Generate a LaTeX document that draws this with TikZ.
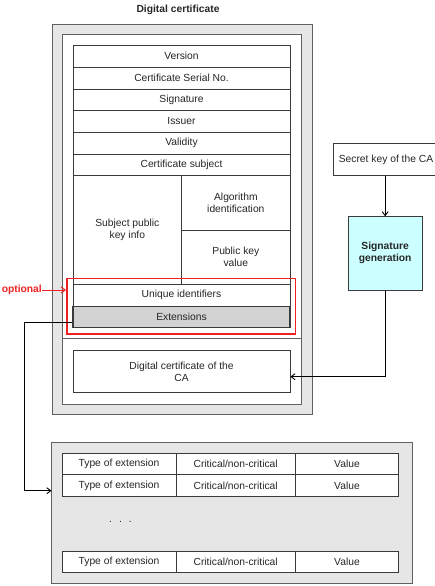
\documentclass[tikz,border=0pt]{standalone}
\usepackage{fontspec}
\setmainfont{Liberation Sans}
\usetikzlibrary{arrows.meta}
\definecolor{panelgray}{HTML}{E6E6E6}
\definecolor{extgray}{HTML}{D2D2D2}
\definecolor{sigcyan}{HTML}{CCFFFF}
\definecolor{lineclr}{HTML}{3A3A3A}
\definecolor{optred}{HTML}{EE2222}
\begin{document}
\begin{tikzpicture}[x=1pt,y=-1pt,
  every node/.style={font=\fontsize{10.3}{12}\selectfont, text=black!85},
  cell/.style={draw=lineclr, line width=0.7pt, inner sep=0pt, align=center},
  conn/.style={draw=black, line width=0.9pt, -{Straight Barb[length=4pt,width=6pt]}},
  panel/.style={draw=lineclr!80, line width=0.8pt}]
\useasboundingbox (0,0) rectangle (434,586);
% title
\node[font=\fontsize{10.3}{12}\selectfont\bfseries] (title) at (178,10) {Digital certificate};
% outer panels
\path[panel, fill=panelgray] (52,24) rectangle (312,414);
\path[panel, fill=white] (62,34) rectangle (301,404);
\draw[panel] (62,338.7) -- (301,338.7);
% table rows
\foreach \n/\t/\y in {ver/Version/56.3, ser/Certificate Serial No./78.0, sig/Signature/99.7, iss/Issuer/121.4, val/Validity/143.1, sub/Certificate subject/164.8}{
  \node[cell, minimum width=217, minimum height=21.7] (\n) at (181.5,\y) {\t};
}
\node[cell, minimum width=108.7, minimum height=108.6] (spk) at (127.35,230) {Subject public\\key info};
\node[cell, minimum width=108.3, minimum height=54.3] (alg) at (235.85,202.85) {Algorithm\\identification};
\node[cell, minimum width=108.3, minimum height=54.3] (pkv) at (235.85,257.15) {Public key\\value};
\node[cell, minimum width=217, minimum height=21.7] (uid) at (181.5,295.15) {Unique identifiers};
\node[cell, fill=extgray, line width=1.1pt, minimum width=217, minimum height=21.7] (ext) at (181.5,317) {Extensions};
% optional marker
\node[draw=optred, line width=1.1pt, minimum width=228.7, minimum height=55.3, inner sep=0pt] (opt) at (181.35,306.35) {};
\node[text=optred, font=\fontsize{10.3}{12}\selectfont\bfseries, anchor=east, inner sep=0pt] (optl) at (42,290) {optional};
\draw[optred, line width=1pt, -{Straight Barb[length=4pt,width=6pt]}] (optl.east) -- (66,290);
% CA certificate
\node[cell, minimum width=217, minimum height=42.7] (ca) at (181.5,371.35) {Digital certificate of the\\CA};
% secret key and signature generation
\node[cell, minimum width=106, minimum height=32.4] (sk) at (386,159.5) {Secret key of the CA};
\node[cell, fill=sigcyan, minimum width=73.7, minimum height=73.3, font=\fontsize{10.3}{12}\selectfont\bfseries] (sg) at (385.15,253.35) {Signature\\generation};
\draw[conn] (sk.south -| sg.north) -- (sg.north);
\draw[conn] (sg.south) |- (ca.east |- 0,376.7);
% extensions panel
\path[panel, fill=panelgray] (51.5,442) rectangle (412.3,583.3);
\foreach \r/\y in {a/463.85, b/485.5, c/561.7}{
  \node[cell, fill=white, minimum width=114, minimum height=21.7] (t\r) at (119,\y) {Type of extension};
  \node[cell, fill=white, minimum width=119.3, minimum height=21.7] (c\r) at (235.65,\y) {Critical/non-critical};
  \node[cell, fill=white, minimum width=103.4, minimum height=21.7] (v\r) at (347,\y) {Value};
}
\node (dots) at (120.5,522) {.\hspace{7pt}.\hspace{7pt}.};
\coordinate (extin) at (51.5,490.7);
\draw[conn] ([yshift=-5.3pt]ext.west) -| (24,490.7) -- (extin);
\end{tikzpicture}
\end{document}
